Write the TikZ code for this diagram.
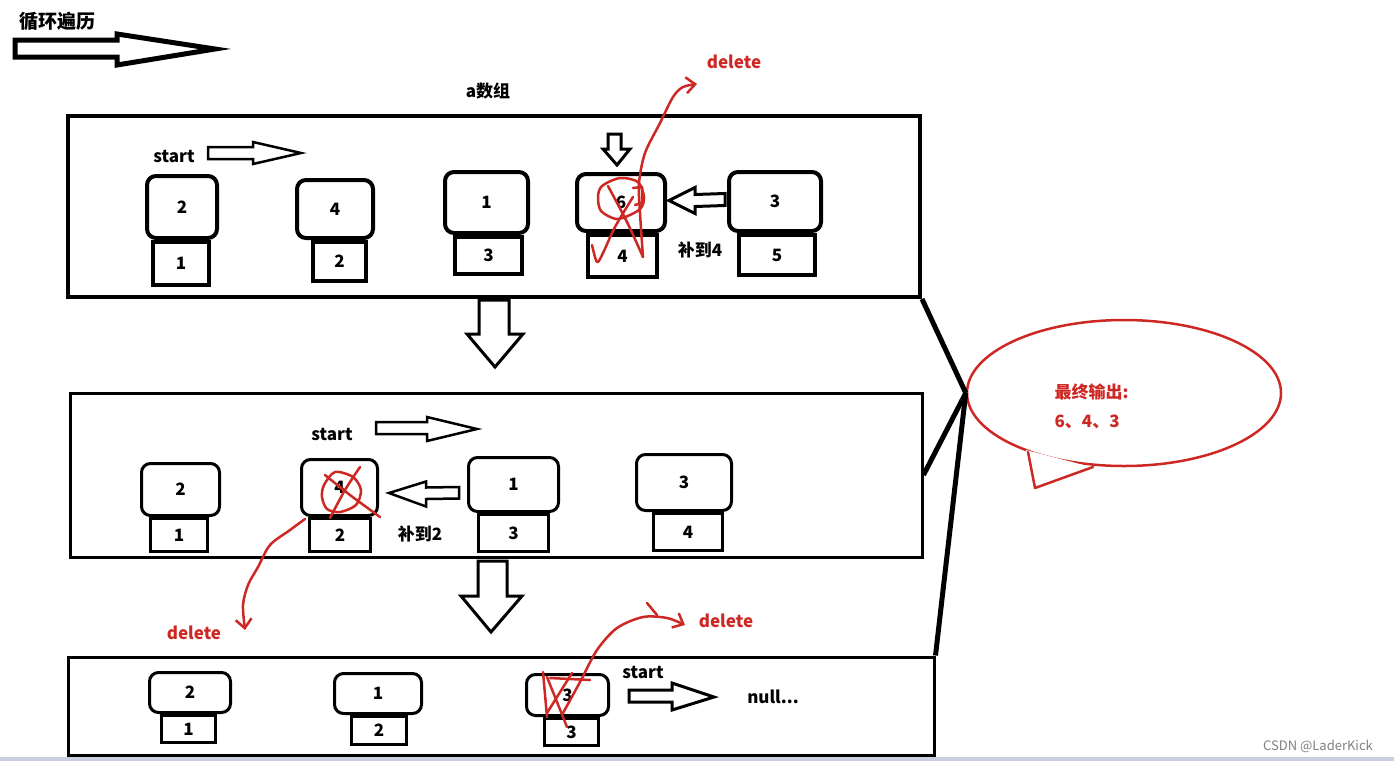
\documentclass[tikz,border=0pt]{standalone}
\usepackage{fontspec}
\setmainfont{Noto Sans CJK SC}
\usetikzlibrary{arrows.meta,calc,shapes.geometric}
\definecolor{pen}{RGB}{206,40,36}
\definecolor{strip}{RGB}{200,208,222}

\begin{document}
\begin{tikzpicture}[x=1pt,y=-1pt,
    every node/.style={font=\fontsize{17}{20}\selectfont\bfseries},
    hd/.style={draw,fill=white,line width=4pt,rounded corners=9pt,inner sep=0pt},
    ix/.style={draw,fill=white,line width=4pt,inner sep=0pt},
    thin/.style={line width=3pt},
    panel/.style={draw,line width=4pt,inner sep=0pt},
    hollow/.style={draw,fill=white,line width=3pt,line join=miter},
    pen/.style={draw=pen,line width=2.5pt,line cap=round,line join=round},
    tipp/.style={-{Straight Barb[length=9pt,width=16pt,line width=2.5pt]}},
    redtxt/.style={text=pen},
  ]
  \useasboundingbox (0,0) rectangle (1394,761);
  \fill[strip] (0,757) rectangle (1394,761);

  % title and big arrow
  \node[font=\fontsize{19}{22}\selectfont\bfseries] (title) at (57,21) {循环遍历};
  \draw[hollow,line width=5pt] (15,40) -- (117,40) -- (117,34) -- (215,49)
    -- (117,65) -- (117,57) -- (15,57) -- cycle;

  % panels
  \node (arr) at (488,91) {a数组};
  \node[panel,minimum width=852pt,minimum height=181pt] (pa) at (494,206.5) {};
  \node[panel,thin,minimum width=852pt,minimum height=164pt] (pb) at (496,475) {};
  \node[panel,thin,minimum width=866pt,minimum height=98pt] (pc) at (501,706) {};

  % first row
  \node[ix,minimum width=56pt,minimum height=43pt] (i1) at (181,263.5) {1};
  \node[hd,minimum width=70pt,minimum height=62pt] (a1) at (182,207) {2};
  \node[ix,minimum width=53pt,minimum height=39pt] (i2) at (339.5,261.5) {2};
  \node[hd,minimum width=76pt,minimum height=58pt] (a2) at (335,209) {4};
  \node[ix,minimum width=67pt,minimum height=37pt] (i3) at (488.5,255.5) {3};
  \node[hd,minimum width=83pt,minimum height=61pt] (a3) at (486.5,202.5) {1};
  \node[ix,minimum width=69pt,minimum height=42pt] (i4) at (622.5,256) {4};
  \node[hd,minimum width=88pt,minimum height=57pt] (a4) at (621,202.5) {6};
  \node[ix,minimum width=76pt,minimum height=40pt] (i5) at (777,255) {5};
  \node[hd,minimum width=92pt,minimum height=59pt] (a5) at (775,201.5) {3};

  \node (sa) at (174,156) {start};
  \draw[hollow,line width=2.5pt] (208,147) -- (253,147) -- (253,142) -- (301,153)
    -- (253,164) -- (253,159) -- (208,159) -- cycle;
  \draw[hollow] (608,134) -- (621,134) -- (621,149) -- (630,149) -- (617,165)
    -- (603,149) -- (608,149) -- cycle;
  \draw[hollow] ($(a5.west)+(-2,-8)$) -- ($(a4.east)+(28,-8)$) -- ($(a4.east)+(28,-15)$)
    -- ($(a4.east)+(2,-2)$) -- ($(a4.east)+(28,11)$) -- ($(a4.east)+(28,4)$)
    -- ($(a5.west)+(-2,4)$) -- cycle;
  \node (fa) at (700,250) {补到4};

  % down arrow 1
  \draw[hollow] (479,300) -- (509,300) -- (509,334) -- (523,334) -- (495,367)
    -- (467,334) -- (479,334) -- cycle;

  % second row
  \node[ix,thin,minimum width=57pt,minimum height=33pt] (j1) at (179,535) {1};
  \node[hd,thin,minimum width=78pt,minimum height=52pt] (b1) at (180.5,489.5) {2};
  \node[ix,thin,minimum width=61pt,minimum height=33pt] (j2) at (340,535) {2};
  \node[hd,thin,minimum width=76pt,minimum height=56pt] (b2) at (339.5,487.5) {4};
  \node[ix,thin,minimum width=70pt,minimum height=37pt] (j3) at (513.5,533) {3};
  \node[hd,thin,minimum width=90pt,minimum height=54pt] (b3) at (513.5,484.5) {1};
  \node[ix,thin,minimum width=69pt,minimum height=37pt] (j4) at (688,532) {4};
  \node[hd,thin,minimum width=95pt,minimum height=56pt] (b4) at (684,482.5) {3};

  \node (sb) at (332,434) {start};
  \draw[hollow,line width=2.5pt] (376,422) -- (427,422) -- (427,417) -- (477,429)
    -- (427,441) -- (427,434) -- (376,434) -- cycle;
  \draw[hollow,line width=2.5pt] ($(b3.west)+(-8,2.5)$) -- ($(b2.east)+(47,0)$) -- ($(b2.east)+(47,-6)$)
    -- ($(b2.east)+(10,5.5)$) -- ($(b2.east)+(47,19)$) -- ($(b2.east)+(47,11.5)$)
    -- ($(b3.west)+(-8,14)$) -- cycle;
  \node (fb) at (420,534) {补到2};

  % down arrow 2
  \draw[hollow] (478,561) -- (507,561) -- (507,596) -- (522,596) -- (491,632)
    -- (461,596) -- (478,596) -- cycle;

  % third row
  \node[ix,thin,minimum width=54pt,minimum height=27pt] (k1) at (188.5,729) {1};
  \node[hd,thin,minimum width=81pt,minimum height=40pt] (c1) at (190,692.5) {2};
  \node[ix,thin,minimum width=55pt,minimum height=28pt] (k2) at (379,730.5) {2};
  \node[hd,thin,minimum width=87pt,minimum height=40pt] (c2) at (378,693.5) {1};
  \node[ix,thin,minimum width=54pt,minimum height=27pt] (k3) at (571.5,732) {3};
  \node[hd,thin,minimum width=82pt,minimum height=41pt] (c3) at (567.5,695) {3};

  \node (sc) at (643,672) {start};
  \draw[hollow] (629,690) -- (672,690) -- (672,683) -- (714,697)
    -- (672,710) -- (672,702) -- (629,702) -- cycle;
  \node (nul) at (773,697) {null...};

  % red marks
  \draw[pen] plot[smooth cycle] coordinates {(602,186) (620,178) (638,182) (644,197)
    (641,208) (630,215) (616,219) (601,211) (598,197)};
  \draw[pen] (633,188) -- (642,187) -- (642,203) -- (635,205);
  \draw[pen] plot[smooth] coordinates {(608,186) (627,222) (643,257)};
  \draw[pen] plot[smooth] coordinates {(592,245) (597,262) (603,253) (615,227) (633,197)};
  \draw[pen,tipp] plot[smooth] coordinates {(643,257) (640,213) (639,183) (645,153)
    (660,123) (673,97) (683,87) (697,84)};
  \node[redtxt] (da) at (734,62) {delete};

  \draw[pen] plot[smooth cycle] coordinates {(335,472) (324,485) (322,497) (327,509)
    (340,512) (356,505) (361,490) (353,477)};
  \draw[pen] plot[smooth] coordinates {(360,467) (345,490) (330,518)};
  \draw[pen] plot[smooth] coordinates {(325,475) (350,495) (380,517)};
  \draw[pen,tipp] plot[smooth] coordinates {(305,519) (290,530) (270,545) (258,567)
    (248,585) (243,605) (245,630)};
  \node[redtxt] (db) at (194,633) {delete};

  \draw[pen] (543,672) -- (547,717);
  \draw[pen] (547,677) -- (567,727);
  \draw[pen] (550,678) -- (590,680);
  \draw[pen] (572,673) -- (547,713);
  \draw[pen] (647,603) -- (657,615);
  \draw[pen,tipp] plot[smooth] coordinates {(563,713) (580,682) (597,650) (617,628)
    (643,617) (667,618) (685,625)};
  \node[redtxt] (dc) at (726,621) {delete};

  % speech bubble
  \node[ellipse,draw=pen,line width=2.5pt,minimum width=314pt,minimum height=146pt] (bub) at (1124,393) {};
  \fill[white] (1026,450) -- (1035,488) -- (1095,468) -- cycle;
  \draw[pen] (1028,452) -- (1035,488) -- (1093,467);
  \node[redtxt,anchor=west] (out) at (1051,392) {最终输出:};
  \node[redtxt,anchor=west] (res) at (1051,422) {6、4、3};
  \coordinate (tip) at (bub.west);

  % connectors to bubble
  \draw[line width=5pt] (pa.south east) -- (tip);
  \draw[line width=5pt] (pb.east) -- (tip);
  \draw[line width=5pt] (pc.north east) -- (tip);

  \node[font=\fontsize{13}{15}\selectfont,text=gray] (mark) at (1318,746) {CSDN @LaderKick};
\end{tikzpicture}
\end{document}
